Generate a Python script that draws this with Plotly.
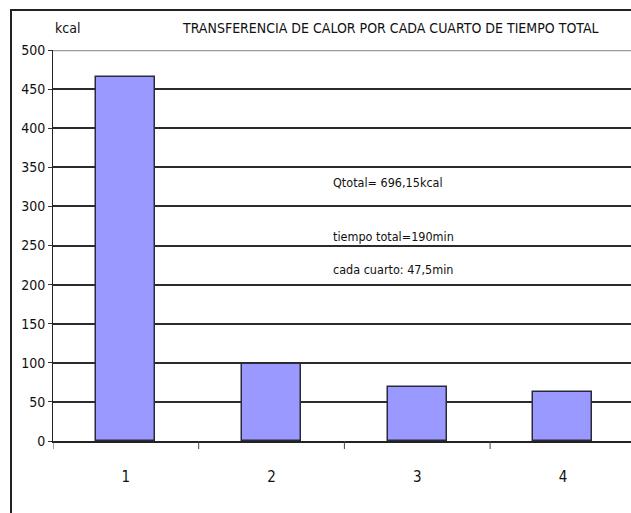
import plotly.graph_objects as go

# Heat transferred in each quarter of the total time
categories = ["1", "2", "3", "4"]
calor_kcal = [466.0, 98.5, 69.5, 62.2]
y_ticks = [0, 50, 100, 150, 200, 250, 300, 350, 400, 450, 500]

title_text = "TRANSFERENCIA DE CALOR POR CADA CUARTO DE TIEMPO TOTAL"
y_unit = "kcal"
notes = ["Qtotal= 696,15kcal", "tiempo total=190min", "cada cuarto: 47,5min"]
note_y = [330, 261, 219]

FONT = "DejaVu Sans Condensed, Liberation Sans Narrow, Arial Narrow, sans-serif"
W, H = 631, 513
L, R, T, B = 53, 0, 50, 72
plot_w = W - L - R
plot_h = H - T - B
CAT_PX = 145.7


def px_x(px):
    return (px - L) / plot_w


def px_y(py):
    return (H - B - py) / plot_h


fig = go.Figure()
fig.add_trace(go.Bar(
    x=list(range(len(categories))),
    y=calor_kcal,
    width=0.405,
    marker=dict(color="#9999FF", line=dict(color="#2a2a3a", width=1.5)),
    showlegend=False,
    hoverinfo="y",
))

fig.update_layout(
    width=W, height=H,
    margin=dict(l=L, r=R, t=T, b=B, pad=0),
    paper_bgcolor="white", plot_bgcolor="white",
    font=dict(family=FONT, size=13, color="#111"),
    bargap=0,
)

fig.update_xaxes(
    range=[-0.5, -0.5 + plot_w / CAT_PX],
    tickmode="array",
    tickvals=list(range(len(categories))),
    ticktext=categories,
    showgrid=False,
    showline=True, linecolor="#222", linewidth=2,
    ticks="", ticklabelstandoff=21,
    tickfont=dict(size=15),
    zeroline=False,
)
# tick marks on the category boundaries
for b in [-0.5, 0.5, 1.5, 2.5]:
    fig.add_shape(type="line", xref="x", yref="paper", x0=b, x1=b,
                  y0=0, y1=-8 / plot_h, line=dict(color="#444", width=1))

fig.update_yaxes(
    range=[0, 500],
    tickmode="array", tickvals=y_ticks,
    showgrid=True, gridcolor="#2b2b2b", gridwidth=1.5,
    showline=True, linecolor="#222", linewidth=1,
    ticks="outside", ticklen=4, tickcolor="#333",
    tickfont=dict(size=14),
    zeroline=False,
)

# lighter rule along the top of the plot area
fig.add_shape(type="line", xref="paper", yref="y", x0=0, x1=1, y0=500, y1=500,
              line=dict(color="#9a9a9a", width=2.5))

# outer chart frame
fig.add_shape(type="rect", xref="paper", yref="paper",
              x0=px_x(11), x1=px_x(700), y0=px_y(600), y1=px_y(10),
              line=dict(color="#222", width=2), fillcolor="rgba(0,0,0,0)",
              layer="below")

fig.add_annotation(text=title_text, xref="paper", yref="paper",
                   x=px_x(390), y=px_y(28), showarrow=False,
                   font=dict(size=14), xanchor="center", yanchor="middle")
fig.add_annotation(text=y_unit, xref="paper", yref="paper",
                   x=px_x(67), y=px_y(28), showarrow=False,
                   font=dict(size=14), xanchor="center", yanchor="middle")
for t, yv in zip(notes, note_y):
    fig.add_annotation(text=t, xref="paper", yref="y", x=px_x(331), y=yv,
                       showarrow=False, xanchor="left", yanchor="middle",
                       font=dict(size=12.5))

fig.write_html("out.html")
